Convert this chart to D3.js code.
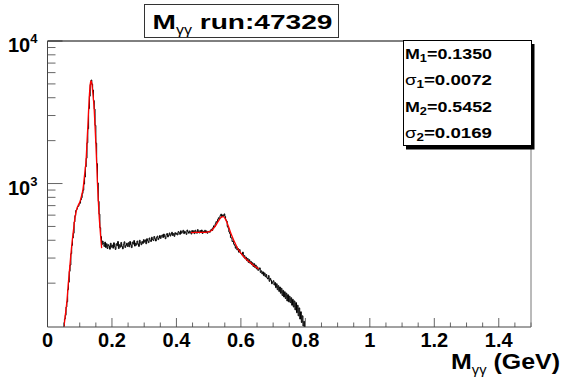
<!DOCTYPE html>
<html>
<head>
<meta charset="utf-8">
<script src="https://cdn.jsdelivr.net/npm/d3@7"></script>
<style>
  body { margin: 0; background: #fff; }
  svg { display: block; }
  text { font-family: "Liberation Sans", Arial, sans-serif; font-weight: bold; fill: #000; }
</style>
</head>
<body>
<div id="chart"></div>
<script>
// histogram of M_gg, bins of 0.0025 GeV starting at 0.05 (one row = 0.05 GeV)
const binStart = 0.05;
const binWidth = 0.0025;
const counts = [
  100, 112, 119, 136, 148, 180, 203, 242, 268, 322, 368, 415, 448, 538, 596, 648, 660, 688, 694, 720,
  728, 768, 795, 852, 898, 992, 1110, 1310, 1505, 1930, 2420, 3350, 4100, 4950, 5320, 4980, 4530, 3820, 3330, 2560,
  1920, 1380, 1010, 750, 610, 490, 425, 372, 395, 380, 362, 388, 356, 378, 350, 372, 364, 346, 381, 358,
  370, 352, 384, 360, 345, 378, 366, 392, 350, 372, 358, 386, 362, 348, 375, 390, 356, 368, 381, 362,
  384, 360, 392, 372, 355, 388, 376, 398, 364, 382, 370, 395, 378, 362, 400, 384, 372, 392, 380, 404,
  388, 402, 378, 410, 396, 385, 415, 400, 392, 420, 405, 398, 425, 410, 395, 418, 428, 404, 415, 432,
  412, 428, 436, 418, 442, 425, 410, 438, 446, 422, 435, 450, 428, 440, 455, 432, 445, 426, 452, 440,
  448, 436, 460, 452, 440, 466, 448, 458, 470, 445, 462, 452, 440, 472, 458, 448, 465, 455, 442, 468,
  452, 466, 445, 470, 458, 448, 475, 460, 450, 468, 455, 472, 446, 462, 458, 470, 452, 465, 448, 460,
  462, 455, 470, 478, 468, 490, 505, 498, 522, 540, 532, 560, 575, 568, 595, 610, 585, 602, 590, 612,
  588, 556, 545, 500, 486, 458, 445, 418, 414, 392, 396, 375, 368, 352, 362, 342, 350, 330, 344, 326,
  322, 316, 330, 305, 312, 296, 304, 288, 298, 280, 292, 276, 284, 270, 278, 262, 274, 258, 268, 252,
  260, 246, 250, 256, 238, 244, 232, 240, 226, 236, 222, 230, 218, 214, 226, 206, 216, 210, 198, 204,
  208, 194, 202, 186, 198, 180, 192, 175, 188, 170, 184, 164, 178, 160, 174, 156, 170, 150, 166, 148,
  162, 146, 158, 140, 154, 136, 150, 130, 146, 124, 140, 118, 134, 112, 126, 106, 118, 100, 108, 92
];

// fit curves: [mass, counts]
const fitPi0 = [
  [0.051, 98], [0.055, 118], [0.060, 148], [0.065, 205], [0.070, 275],
  [0.075, 365], [0.080, 460], [0.085, 570], [0.090, 650], [0.095, 700],
  [0.100, 740], [0.105, 810], [0.110, 910], [0.115, 1150], [0.120, 1500],
  [0.1225, 1950], [0.125, 2500], [0.1275, 3300], [0.130, 4200], [0.1325, 4950],
  [0.135, 5250], [0.1375, 5050], [0.140, 4450], [0.1425, 3900], [0.145, 3250],
  [0.1475, 2500], [0.150, 1900], [0.1525, 1400], [0.155, 1000], [0.1575, 760],
  [0.160, 600], [0.1625, 500], [0.165, 420], [0.168, 352]
];
const fitEta = [
  [0.445, 452], [0.460, 455], [0.475, 455], [0.490, 455], [0.500, 458],
  [0.510, 470], [0.520, 500], [0.530, 545], [0.5375, 575], [0.545, 585],
  [0.5525, 560], [0.560, 510], [0.570, 440], [0.580, 390], [0.590, 350],
  [0.600, 325], [0.610, 305], [0.620, 290], [0.630, 278], [0.640, 266],
  [0.655, 252]
];

const xTickValues = [0, 0.2, 0.4, 0.6, 0.8, 1.0, 1.2, 1.4];
const xTickLabels = ["0", "0.2", "0.4", "0.6", "0.8", "1", "1.2", "1.4"];
const yDecades = [1000, 10000];
const yDecadeExp = ["3", "4"];

const statNames = ["M", "σ", "M", "σ"];
const statIdx = ["1", "1", "2", "2"];
const statValues = ["0.1350", "0.0072", "0.5452", "0.0169"];

const titleRun = "run:47329";

const W = 563, H = 379;
const fLeft = 47.5, fRight = 531, fTop = 41, fBottom = 327;

const svg = d3.select("#chart").append("svg")
  .attr("width", W).attr("height", H);

svg.append("rect").attr("width", W).attr("height", H).attr("fill", "#fff");

const x = d3.scaleLinear().domain([0, 1.5]).range([fLeft, fRight]);
const y = d3.scaleLog().domain([98.5, 10000]).range([fBottom, fTop]);
const ymin = y.domain()[0];

svg.append("clipPath").attr("id", "plotclip")
  .append("rect")
  .attr("x", fLeft).attr("y", fTop)
  .attr("width", fRight - fLeft).attr("height", fBottom - fTop);

const plot = svg.append("g").attr("clip-path", "url(#plotclip)");

// histogram as steps
let histPts = counts.map((c, i) => [binStart + (i + 0.5) * binWidth, c]);
histPts.push([binStart + (counts.length + 0.5) * binWidth, ymin * 0.5]);
let hist = d3.line()
  .x(d => x(d[0]))
  .y(d => y(Math.max(d[1], ymin * 0.8)))
  .curve(d3.curveStep);

plot.append("path")
  .datum(histPts)
  .attr("d", hist)
  .attr("fill", "none")
  .attr("stroke", "#000")
  .attr("stroke-width", 1);

let fitLine = d3.line()
  .x(d => x(d[0]))
  .y(d => y(d[1]))
  .curve(d3.curveMonotoneX);

[fitPi0, fitEta].forEach(f => {
  plot.append("path")
    .datum(f)
    .attr("d", fitLine)
    .attr("fill", "none")
    .attr("stroke", "#ff0000")
    .attr("stroke-width", 1.3);
});

// x ticks (inside frame)
let xMinor = d3.range(0, 31).map(i => i * 0.05);
svg.append("g").selectAll("line")
  .data(xMinor)
  .enter().append("line")
  .attr("x1", d => x(d)).attr("x2", d => x(d))
  .attr("y1", fBottom)
  .attr("y2", (d, i) => i % 4 == 0 ? fBottom - 9 : fBottom - 4.5)
  .attr("stroke", "#666");

svg.append("g").selectAll("text")
  .data(xTickValues)
  .enter().append("text")
  .attr("x", d => x(d))
  .attr("y", 347)
  .attr("text-anchor", "middle")
  .style("font-size", "20px")
  .text((d, i) => xTickLabels[i]);

// y ticks (inside frame)
let yMinor = [];
[100, 1000].forEach(dec => {
  for (let k = 2; k <= 9; k++) yMinor.push(dec * k);
});
svg.append("g").selectAll("line")
  .data(yMinor)
  .enter().append("line")
  .attr("x1", fLeft).attr("x2", fLeft + 8)
  .attr("y1", d => y(d)).attr("y2", d => y(d))
  .attr("stroke", "#666");
svg.append("g").selectAll("line")
  .data(yDecades)
  .enter().append("line")
  .attr("x1", fLeft).attr("x2", fLeft + 15)
  .attr("y1", d => y(d)).attr("y2", d => y(d))
  .attr("stroke", "#666");

let yl = svg.append("g").selectAll("text")
  .data(yDecades)
  .enter().append("text")
  .attr("x", 8)
  .attr("y", d => y(d) + 11)
  .style("font-size", "20px");
yl.append("tspan").text("10");
yl.append("tspan")
  .attr("dy", -9)
  .style("font-size", "13px")
  .text((d, i) => yDecadeExp[i]);

// frame
svg.append("line").attr("x1", fLeft).attr("x2", fRight).attr("y1", fTop).attr("y2", fTop).attr("stroke", "#000");
svg.append("line").attr("x1", fLeft).attr("x2", fLeft).attr("y1", fTop).attr("y2", fBottom).attr("stroke", "#444");
svg.append("line").attr("x1", fLeft).attr("x2", fRight).attr("y1", fBottom).attr("y2", fBottom).attr("stroke", "#444");
svg.append("line").attr("x1", fRight).attr("x2", fRight).attr("y1", fTop).attr("y2", fBottom).attr("stroke", "#777");

// axis title
let xt = svg.append("text")
  .attr("x", 451).attr("y", 369)
  .attr("textLength", 109)
  .attr("lengthAdjust", "spacingAndGlyphs")
  .style("font-size", "22px");
xt.append("tspan").text("M");
xt.append("tspan").attr("dy", 5).style("font-size", "13px").style("font-weight", "normal").text("γγ");
xt.append("tspan").attr("dy", -5).text(" (GeV)");

// title box
svg.append("rect")
  .attr("x", 144.5).attr("y", 4.5)
  .attr("width", 194).attr("height", 33)
  .attr("fill", "#fff").attr("stroke", "#333");
let tt = svg.append("text")
  .attr("x", 152.5).attr("y", 28.5)
  .attr("textLength", 180)
  .attr("lengthAdjust", "spacingAndGlyphs")
  .style("font-size", "21px");
tt.append("tspan").text("M");
tt.append("tspan").attr("dy", 5).style("font-size", "12px").style("font-weight", "normal").text("γγ");
tt.append("tspan").attr("dy", -5).text(" " + titleRun);

// stats box with shadow
const sx = 403, sy = 40, sw = 128, sh = 105;
svg.append("rect").attr("x", sx + 3).attr("y", sy + 4).attr("width", sw + 0.5).attr("height", sh + 0.5).attr("fill", "#000");
svg.append("rect").attr("x", sx + 0.5).attr("y", sy + 0.5).attr("width", sw).attr("height", sh)
  .attr("fill", "#fff").attr("stroke", "#000");

statNames.forEach((n, i) => {
  let t = svg.append("text")
    .attr("x", 405).attr("y", 59 + i * 26.4)
    .attr("textLength", 87)
    .attr("lengthAdjust", "spacingAndGlyphs")
    .style("font-size", "14px");
  t.append("tspan").style("font-weight", n == "σ" ? "normal" : "bold").text(n);
  t.append("tspan").attr("dy", 3).style("font-size", "10px").text(statIdx[i]);
  t.append("tspan").attr("dy", -3).text("=" + statValues[i]);
});
</script>
</body>
</html>
